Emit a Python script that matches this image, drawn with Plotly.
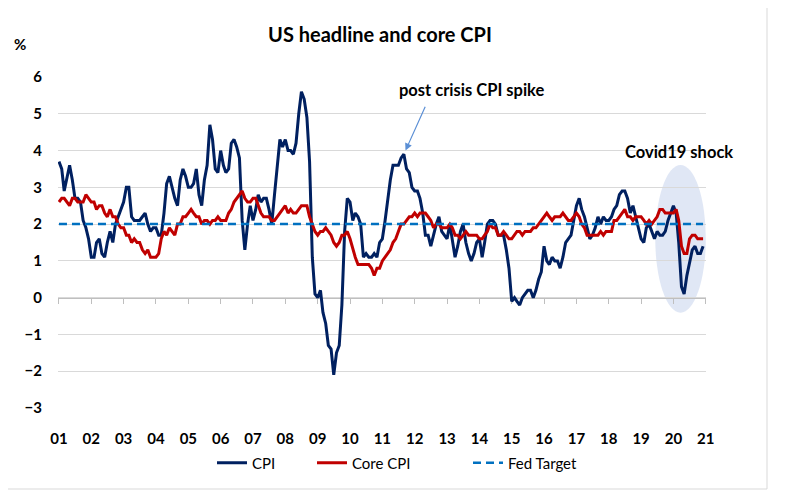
import pandas as pd
import plotly.graph_objects as go

# ---------------- data (monthly, Jan 2001 - Dec 2020, % y/y) ----------------
months = pd.date_range("2001-01-01", "2020-12-01", freq="MS")

cpi = [
    3.7, 3.5, 2.9, 3.3, 3.6, 3.2, 2.7, 2.7, 2.6, 2.1, 1.9, 1.6,   # 2001
    1.1, 1.1, 1.5, 1.6, 1.2, 1.1, 1.5, 1.8, 1.5, 2.0, 2.2, 2.4,   # 2002
    2.6, 3.0, 3.0, 2.2, 2.1, 2.1, 2.1, 2.2, 2.3, 2.0, 1.8, 1.9,   # 2003
    1.9, 1.7, 1.7, 2.3, 3.1, 3.3, 3.0, 2.7, 2.5, 3.2, 3.5, 3.3,   # 2004
    3.0, 3.0, 3.1, 3.5, 2.8, 2.5, 3.2, 3.6, 4.7, 4.3, 3.5, 3.4,   # 2005
    4.0, 3.6, 3.4, 3.5, 4.2, 4.3, 4.1, 3.8, 2.1, 1.3, 2.0, 2.5,   # 2006
    2.1, 2.4, 2.8, 2.6, 2.7, 2.7, 2.4, 2.0, 2.8, 3.5, 4.3, 4.1,   # 2007
    4.3, 4.0, 4.0, 3.9, 4.2, 5.0, 5.6, 5.4, 4.9, 3.7, 1.1, 0.1,   # 2008
    0.0, 0.2, -0.4, -0.7, -1.3, -1.4, -2.1, -1.5, -1.3, -0.2, 1.8, 2.7,  # 2009
    2.6, 2.1, 2.3, 2.2, 2.0, 1.1, 1.2, 1.1, 1.1, 1.2, 1.1, 1.5,   # 2010
    1.6, 2.1, 2.7, 3.2, 3.6, 3.6, 3.6, 3.8, 3.9, 3.5, 3.4, 3.0,   # 2011
    2.9, 2.9, 2.7, 2.3, 1.7, 1.7, 1.4, 1.7, 2.0, 2.2, 1.8, 1.7,   # 2012
    1.6, 2.0, 1.5, 1.1, 1.4, 1.8, 2.0, 1.5, 1.2, 1.0, 1.2, 1.5,   # 2013
    1.6, 1.1, 1.5, 2.0, 2.1, 2.1, 2.0, 1.7, 1.7, 1.7, 1.3, 0.8,   # 2014
    -0.1, 0.0, -0.1, -0.2, 0.0, 0.1, 0.2, 0.2, 0.0, 0.2, 0.5, 0.7,  # 2015
    1.4, 1.0, 0.9, 1.1, 1.0, 1.0, 0.8, 1.1, 1.5, 1.6, 1.7, 2.1,   # 2016
    2.5, 2.7, 2.4, 2.2, 1.9, 1.6, 1.7, 1.9, 2.2, 2.0, 2.2, 2.1,   # 2017
    2.1, 2.2, 2.4, 2.5, 2.8, 2.9, 2.9, 2.7, 2.3, 2.5, 2.2, 1.9,   # 2018
    1.6, 1.5, 1.9, 2.0, 1.8, 1.6, 1.8, 1.7, 1.7, 1.8, 2.1, 2.3,   # 2019
    2.5, 2.3, 1.5, 0.3, 0.1, 0.6, 1.0, 1.3, 1.4, 1.2, 1.2, 1.4,   # 2020
]

core_cpi = [
    2.6, 2.7, 2.7, 2.6, 2.5, 2.7, 2.7, 2.6, 2.6, 2.6, 2.8, 2.7,   # 2001
    2.6, 2.6, 2.4, 2.5, 2.5, 2.3, 2.2, 2.4, 2.2, 2.2, 2.0, 1.9,   # 2002
    1.9, 1.7, 1.7, 1.5, 1.6, 1.5, 1.5, 1.3, 1.2, 1.3, 1.1, 1.1,   # 2003
    1.1, 1.2, 1.6, 1.8, 1.7, 1.9, 1.8, 1.7, 2.0, 2.0, 2.2, 2.2,   # 2004
    2.3, 2.4, 2.3, 2.2, 2.2, 2.0, 2.1, 2.1, 2.0, 2.1, 2.1, 2.2,   # 2005
    2.1, 2.1, 2.1, 2.3, 2.4, 2.6, 2.7, 2.8, 2.9, 2.7, 2.6, 2.6,   # 2006
    2.7, 2.7, 2.5, 2.3, 2.2, 2.2, 2.2, 2.1, 2.1, 2.2, 2.3, 2.4,   # 2007
    2.5, 2.3, 2.4, 2.3, 2.3, 2.4, 2.5, 2.5, 2.5, 2.2, 2.0, 1.8,   # 2008
    1.7, 1.8, 1.8, 1.9, 1.8, 1.7, 1.5, 1.4, 1.5, 1.7, 1.7, 1.8,   # 2009
    1.6, 1.3, 1.1, 0.9, 0.9, 0.9, 0.9, 0.9, 0.8, 0.6, 0.8, 0.8,   # 2010
    1.0, 1.1, 1.2, 1.3, 1.5, 1.6, 1.8, 2.0, 2.0, 2.1, 2.2, 2.2,   # 2011
    2.3, 2.2, 2.3, 2.3, 2.3, 2.2, 2.1, 1.9, 2.0, 2.0, 1.9, 1.9,   # 2012
    1.9, 2.0, 1.9, 1.7, 1.7, 1.6, 1.7, 1.8, 1.7, 1.7, 1.7, 1.7,   # 2013
    1.6, 1.6, 1.7, 1.8, 2.0, 1.9, 1.9, 1.7, 1.7, 1.8, 1.7, 1.6,   # 2014
    1.6, 1.7, 1.8, 1.8, 1.7, 1.8, 1.8, 1.8, 1.9, 1.9, 2.0, 2.1,   # 2015
    2.2, 2.3, 2.2, 2.1, 2.2, 2.2, 2.2, 2.3, 2.2, 2.1, 2.1, 2.2,   # 2016
    2.3, 2.2, 2.0, 1.9, 1.7, 1.7, 1.7, 1.7, 1.7, 1.8, 1.7, 1.8,   # 2017
    1.8, 1.8, 2.1, 2.1, 2.2, 2.3, 2.4, 2.2, 2.2, 2.1, 2.2, 2.2,   # 2018
    2.2, 2.1, 2.0, 2.1, 2.0, 2.1, 2.2, 2.4, 2.4, 2.3, 2.3, 2.3,   # 2019
    2.3, 2.4, 2.1, 1.4, 1.2, 1.2, 1.6, 1.7, 1.7, 1.6, 1.6, 1.6,   # 2020
]

fed_target = 2.0

year_ticks = pd.date_range("2001-01-01", "2021-01-01", freq="YS")
year_labels = ["01", "02", "03", "04", "05", "06", "07", "08", "09", "10",
               "11", "12", "13", "14", "15", "16", "17", "18", "19", "20", "21"]
y_ticks = [-3, -2, -1, 0, 1, 2, 3, 4, 5, 6]

spike_date, spike_value = "2011-09-01", 3.9

# ---------------- figure ----------------
FONT = "Lato, 'Open Sans', sans-serif"
x_range = ["2000-12-21", "2021-01-03"]

# page body has an 8px margin: figure is 8px smaller and margins shifted
OFF = 8
W, H = 787 - OFF, 497 - OFF
L, T = 58 - OFF, 77 - OFF
R, B = W - (706 - OFF), H - (408 - OFF)
PW, PH = W - L - R, H - T - B


def px_x(px):
    return (px - 58) / PW


def px_y(py):
    return (408 - py) / PH


fig = go.Figure()
fig.add_trace(go.Scatter(x=months, y=cpi, mode="lines", name="CPI", legend="legend",
                         line=dict(color="#002060", width=3)))
fig.add_trace(go.Scatter(x=months, y=core_cpi, mode="lines", name="Core CPI",
                         legend="legend2", line=dict(color="#C00000", width=3)))
fig.add_trace(go.Scatter(x=[months[0], months[-1]], y=[fed_target, fed_target],
                         mode="lines", name="Fed Target", xaxis="x2", legend="legend3",
                         line=dict(color="#0070C0", width=2.5, dash="8px,5px")))

leg_font = dict(family=FONT, size=15, color="#000000")
leg_y = px_y(463)


def leg(xpx):
    return dict(x=px_x(xpx), xanchor="left", y=leg_y, yanchor="middle",
                font=leg_font, bgcolor="rgba(0,0,0,0)", borderwidth=0)


fig.update_layout(
    width=W, height=H,
    margin=dict(l=L, r=R, t=T, b=B),
    plot_bgcolor="white", paper_bgcolor="white",
    font=dict(family=FONT, size=15, color="#000000"),
    title=dict(text="US headline and core CPI", x=(380 - OFF) / W, xref="container",
               y=1 - (35 - OFF) / H, yref="container", xanchor="center", yanchor="middle",
               font=dict(family=FONT, size=20, color="#000000", weight="bold")),
    showlegend=True,
    legend=leg(212),
    legend2=leg(312),
    legend3=leg(468),
    xaxis=dict(type="date", range=x_range, tickvals=year_ticks, ticktext=year_labels,
               showgrid=False, showline=False, zeroline=False,
               ticks="outside", ticklen=17, tickcolor="rgba(0,0,0,0)",
               tickfont=dict(family=FONT, size=15, color="#000000", weight="bold")),
    xaxis2=dict(type="date", overlaying="x", matches="x", anchor="free",
                position=1 / 3, side="bottom", range=x_range,
                tickvals=year_ticks, showticklabels=False, showgrid=False,
                zeroline=False, showline=True, linecolor="#BFBFBF", linewidth=1,
                ticks="outside", ticklen=5, tickcolor="#BFBFBF", layer="below traces"),
    yaxis=dict(range=[-3, 6], tickvals=y_ticks, showgrid=True, gridcolor="#D9D9D9",
               gridwidth=1, zeroline=False, showline=False,
               ticks="outside", ticklen=12, tickcolor="rgba(0,0,0,0)",
               tickfont=dict(family=FONT, size=15, color="#000000", weight="bold")),
)

# Covid ellipse
fig.add_shape(type="circle", xref="x", yref="y", x0="2019-06-10", x1="2021-01-01",
              y0=-0.41, y1=3.61, fillcolor="#DAE3F3", opacity=0.85,
              line=dict(width=0), layer="below")

# chart border
fig.add_shape(type="rect", xref="paper", yref="paper",
              x0=px_x(7), x1=px_x(767), y0=px_y(489), y1=px_y(7),
              line=dict(color="#D9D9D9", width=1), fillcolor="rgba(0,0,0,0)")

fig.add_annotation(text="%", xref="paper", yref="paper", x=px_x(19.5), y=px_y(44),
                   xanchor="center", yanchor="middle", showarrow=False,
                   font=dict(family=FONT, size=15, color="#000000", weight="bold"))
fig.add_annotation(text="post crisis CPI spike", xref="paper", yref="paper",
                   x=px_x(471), y=px_y(90), xanchor="center", yanchor="middle",
                   showarrow=False,
                   font=dict(family=FONT, size=16.5, color="#000000", weight="bold"))
fig.add_annotation(text="", x=spike_date, y=spike_value, xref="x", yref="y",
                   ax=22, ay=-49, showarrow=True, arrowhead=2, arrowsize=1.2,
                   arrowwidth=1.2, arrowcolor="#5B8FD5", standoff=4)
fig.add_annotation(text="Covid19 shock", xref="paper", yref="paper",
                   x=px_x(679), y=px_y(152), xanchor="center", yanchor="middle",
                   showarrow=False,
                   font=dict(family=FONT, size=16.5, color="#000000", weight="bold"))

fig.write_html("out.html")
